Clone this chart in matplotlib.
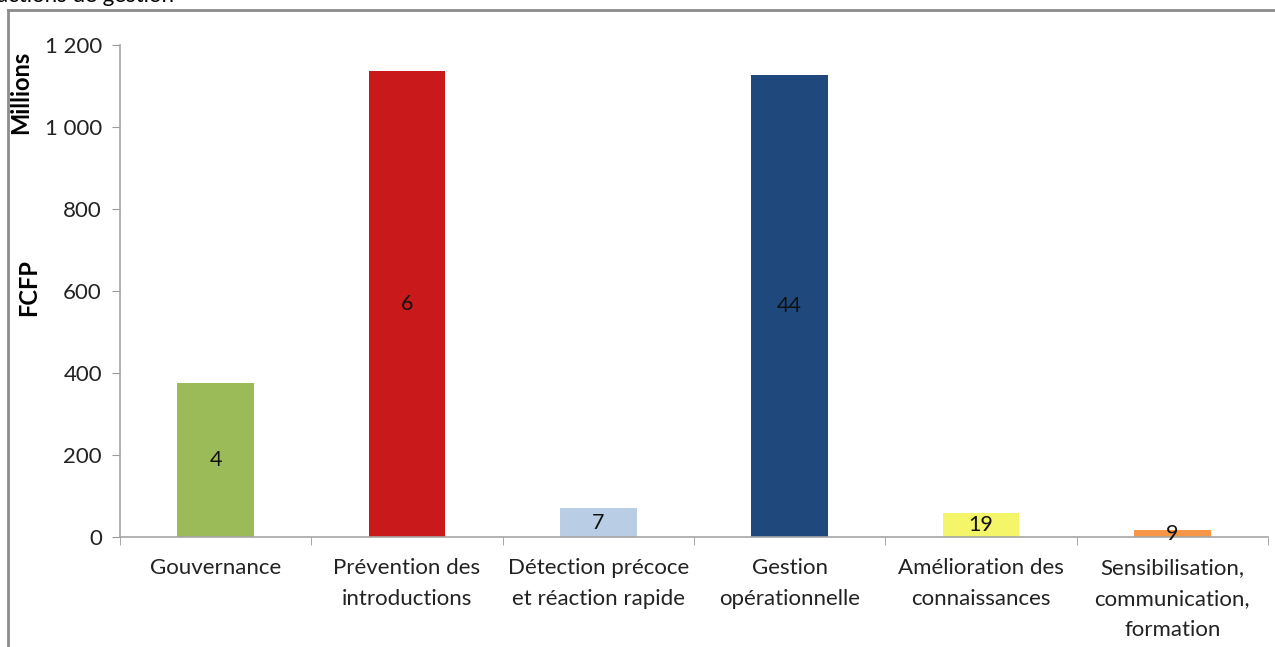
import matplotlib
matplotlib.use("Agg")
import matplotlib.pyplot as plt
from matplotlib.lines import Line2D
from matplotlib.ticker import FuncFormatter

# montants par axe (en millions de FCFP) et nombre d'actions par axe
categories = ["Gouvernance", "Prévention des\nintroductions", "Détection précoce\net réaction rapide",
              "Gestion\nopérationnelle", "Amélioration des\nconnaissances",
              "Sensibilisation,\ncommunication,\nformation"]
montants = [375, 1138, 70, 1128, 58, 17]
nb_actions = [4, 6, 7, 44, 19, 9]
couleurs = ["#9BBB59", "#C9191B", "#B9CDE5", "#1F497D", "#F5F56A", "#F79646"]

plt.rcParams['font.family'] = ['Lato', 'DejaVu Sans']

fig = plt.figure(figsize=(12.75, 6.47), dpi=100)
ax = fig.add_axes([0.0941, 0.170, 0.9004, 0.760])

x = list(range(len(categories)))
bars = ax.bar(x, montants, width=0.4, color=couleurs, zorder=2)
for b, n in zip(bars, nb_actions):
    ax.text(b.get_x() + b.get_width() / 2, b.get_height() / 2, str(n),
            ha='center', va='center', fontsize=15.5, color='#111111')

ax.set_xlim(-0.5, len(categories) - 0.5)
ax.set_ylim(0, 1200)
ax.set_yticks(range(0, 1201, 200))
ax.yaxis.set_major_formatter(FuncFormatter(lambda v, p: f"{int(v):,}".replace(",", " ")))
ax.set_xticks(x)
ax.set_xticklabels(categories, fontsize=16, color='#222222', linespacing=1.7)
ax.set_xticks([i - 0.5 for i in range(len(categories) + 1)], minor=True)
ax.tick_params(axis='x', which='major', length=0, pad=15)
ax.tick_params(axis='x', which='minor', length=6, color='#999999', direction='out')
ax.tick_params(axis='y', length=6, color='#999999', labelsize=16, labelcolor='#222222', pad=7)

for s in ['top', 'right']:
    ax.spines[s].set_visible(False)
for s in ['left', 'bottom']:
    ax.spines[s].set_color('#A6A6A6')
    ax.spines[s].set_linewidth(1.2)

fig.text(0.0165, 1 - 92 / 647, "Millions", rotation=90, ha='center', va='center',
         fontsize=17, fontweight='bold')
fig.text(0.0225, 1 - 288 / 647, "FCFP", rotation=90, ha='center', va='center',
         fontsize=17, fontweight='bold')

# cadre du graphique
fig.add_artist(Line2D([8 / 1275, 8 / 1275], [0, 1 - 10 / 647], color='#8C8C8C', lw=2))
fig.add_artist(Line2D([8 / 1275, 1], [1 - 10 / 647, 1 - 10 / 647], color='#8C8C8C', lw=2))

fig.text(-0.002, 1 - 2 / 647, "actions de gestion", ha='left', va='baseline', fontsize=16)

fig.savefig("out.png", dpi=100)
